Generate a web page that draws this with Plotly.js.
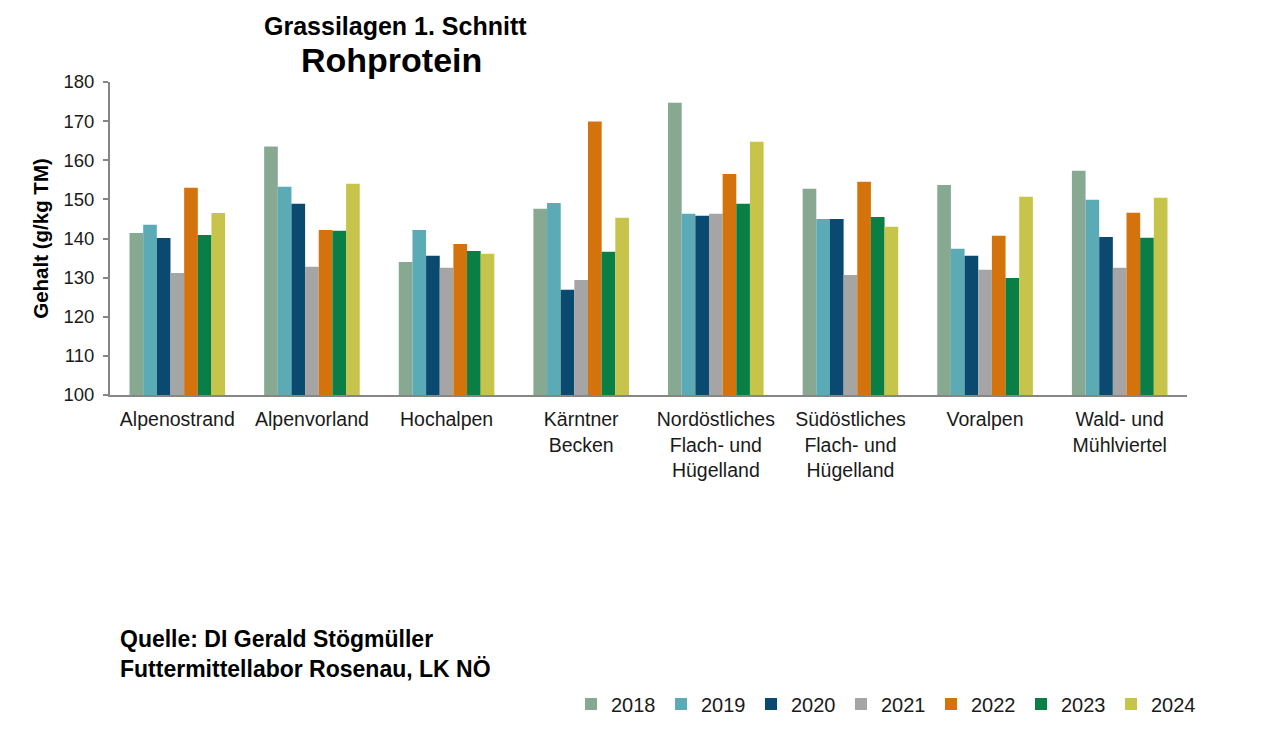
<!DOCTYPE html>
<html>
<head>
<meta charset="utf-8">
<script src="https://cdn.plot.ly/plotly-3.0.1.min.js"></script>
<style>html,body{margin:0;padding:0;background:#fff;}#chart{width:1265px;height:747px;}</style>
</head>
<body>
<div id="chart"></div>
<script>
const categories = ["Alpenostrand", "Alpenvorland", "Hochalpen", "Kärntner<br>Becken",
  "Nordöstliches<br>Flach- und<br>Hügelland", "Südöstliches<br>Flach- und<br>Hügelland",
  "Voralpen", "Wald- und<br>Mühlviertel"];
const years = ["2018", "2019", "2020", "2021", "2022", "2023", "2024"];
const v2018 = [141.4, 163.5, 134.0, 147.6, 174.7, 152.7, 153.7, 157.3];
const v2019 = [143.5, 153.2, 142.2, 149.1, 146.3, 145.0, 137.4, 149.9];
const v2020 = [140.1, 148.9, 135.6, 126.9, 145.8, 145.0, 135.6, 140.4];
const v2021 = [131.2, 132.8, 132.5, 129.4, 146.3, 130.7, 132.0, 132.5];
const v2022 = [153.0, 142.2, 138.6, 169.9, 156.5, 154.5, 140.7, 146.6];
const v2023 = [140.9, 142.0, 136.8, 136.6, 148.9, 145.5, 129.9, 140.2];
const v2024 = [146.5, 154.0, 136.1, 145.3, 164.7, 143.0, 150.7, 150.4];
const colors = ["#87A992", "#5AABB5", "#0B4A70", "#A5A5A5", "#D4730B", "#0A7F45", "#C6C44A"];
const series = [v2018, v2019, v2020, v2021, v2022, v2023, v2024];

const traces = series.map((vals, i) => ({
  type: "bar", name: years[i], x: categories, y: vals,
  marker: {color: colors[i]}, hoverinfo: "x+y+name"
}));

const F = "Liberation Sans, Arial, sans-serif";
const layout = {
  width: 1265, height: 747,
  margin: {l: 110, r: 78, t: 82, b: 352, autoexpand: false},
  paper_bgcolor: "#fff", plot_bgcolor: "#fff",
  barmode: "group", bargap: 0.29, bargroupgap: 0,
  font: {family: F, size: 18, color: "#1a1a1a"},
  xaxis: {type: "category", showline: true, linecolor: "#868686", linewidth: 2, tickangle: 0,
    ticks: "", showgrid: false, tickfont: {size: 19.5, color: "#1a1a1a"}, ticklabelstandoff: 6, fixedrange: true},
  yaxis: {range: [100, 180], dtick: 10, showline: true, linecolor: "#868686", linewidth: 2,
    ticks: "outside", ticklen: 5, tickcolor: "#868686", tickwidth: 2, showgrid: false, zeroline: false,
    tickfont: {size: 18.5, color: "#1a1a1a"}, ticklabelstandoff: 5,
    title: {text: "<b>Gehalt (g/kg TM)</b>", font: {size: 20.5, color: "#000"}, standoff: 9}},
  showlegend: true,
  legend: {orientation: "h", x: 1.013, xanchor: "right", y: -0.987, yanchor: "middle",
    font: {size: 20, color: "#1a1a1a"}, traceorder: "normal", entrywidth: 45, itemwidth: 30},
  annotations: [
    {text: "<b>Grassilagen 1. Schnitt</b>", xref: "paper", yref: "paper", x: 0.265, y: 1.179,
     xanchor: "center", yanchor: "middle", showarrow: false, font: {size: 25, color: "#000"}},
    {text: "<b>Rohprotein</b>", xref: "paper", yref: "paper", x: 0.261, y: 1.07,
     xanchor: "center", yanchor: "middle", showarrow: false, font: {size: 34, color: "#000"}},
    {text: "<b>Quelle: DI Gerald Stögmüller<br>Futtermittellabor Rosenau, LK NÖ</b>", xref: "paper", yref: "paper",
     x: 0.0074, y: -0.827, xanchor: "left", yanchor: "middle", align: "left", showarrow: false,
     font: {size: 23, color: "#000"}}
  ]
};
Plotly.newPlot("chart", traces, layout, {displayModeBar: false, staticPlot: true});
</script>
</body>
</html>
